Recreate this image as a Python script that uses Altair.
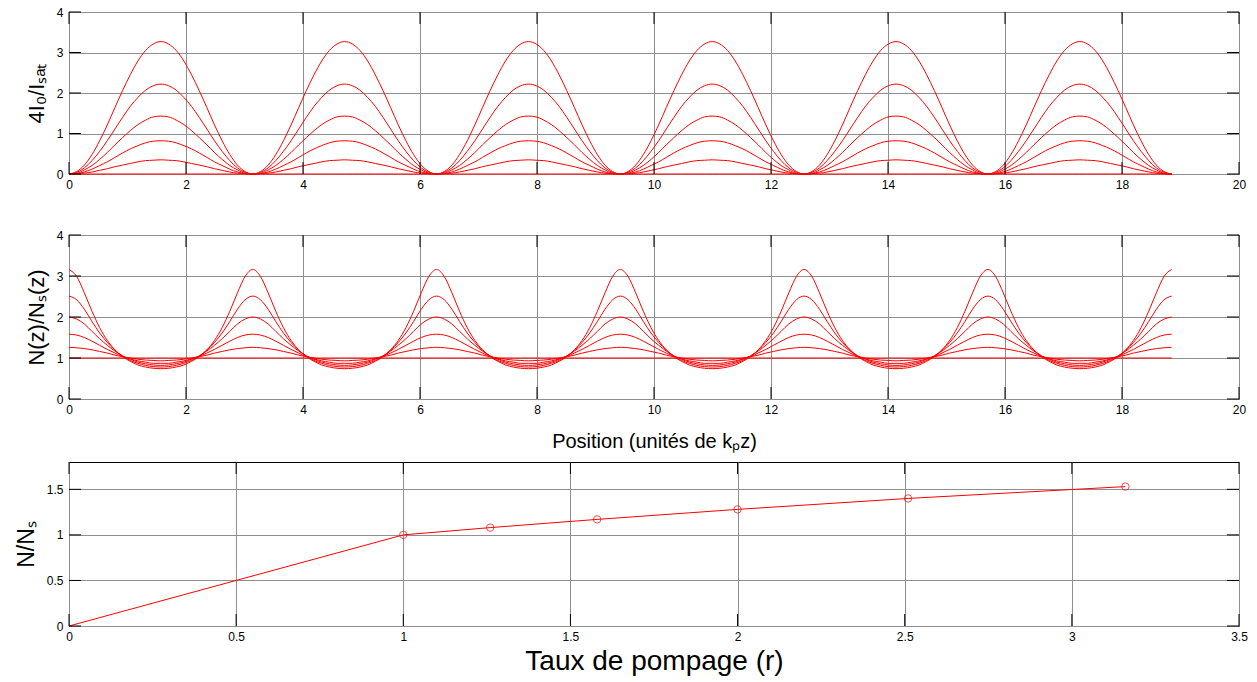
import altair as alt
import pandas as pd

# ---------------- data ----------------
PERIOD = 3.1416          # distance between two nodes of the standing wave
N_PERIODS = 6
# sample positions over one half period (0 .. pi/2)
half_x = [0, 0.131, 0.262, 0.393, 0.524, 0.654, 0.785, 0.916, 1.047, 1.178, 1.309, 1.440, 1.571]

r_labels = ["1.00", "1.26", "1.58", "2.00", "2.51", "3.16"]

# top panel: 4 I0 / Isat over a half period, one list per pumping rate
int_r100 = [0, 0, 0, 0, 0, 0, 0, 0, 0, 0, 0, 0, 0]
int_r126 = [0, 0.01, 0.02, 0.05, 0.09, 0.13, 0.18, 0.22, 0.26, 0.30, 0.33, 0.34, 0.35]
int_r158 = [0, 0.01, 0.05, 0.12, 0.21, 0.30, 0.41, 0.52, 0.62, 0.70, 0.77, 0.81, 0.82]
int_r200 = [0, 0.02, 0.10, 0.21, 0.36, 0.53, 0.72, 0.90, 1.07, 1.22, 1.33, 1.41, 1.43]
int_r251 = [0, 0.04, 0.15, 0.33, 0.56, 0.82, 1.11, 1.40, 1.67, 1.89, 2.07, 2.18, 2.22]
int_r316 = [0, 0.06, 0.22, 0.48, 0.82, 1.21, 1.64, 2.06, 2.45, 2.79, 3.05, 3.21, 3.27]

# middle panel: N(z)/Ns(z) over a half period
dens_r100 = [1, 1, 1, 1, 1, 1, 1, 1, 1, 1, 1, 1, 1]
dens_r126 = [1.26, 1.25, 1.23, 1.20, 1.16, 1.12, 1.07, 1.03, 1.00, 0.97, 0.95, 0.94, 0.93]
dens_r158 = [1.58, 1.56, 1.50, 1.41, 1.31, 1.21, 1.12, 1.04, 0.98, 0.93, 0.90, 0.87, 0.87]
dens_r200 = [2.00, 1.95, 1.83, 1.65, 1.47, 1.31, 1.17, 1.05, 0.97, 0.90, 0.86, 0.83, 0.82]
dens_r251 = [2.51, 2.42, 2.19, 1.89, 1.61, 1.38, 1.19, 1.05, 0.94, 0.87, 0.82, 0.79, 0.78]
dens_r316 = [3.16, 2.99, 2.59, 2.14, 1.74, 1.43, 1.20, 1.03, 0.92, 0.83, 0.78, 0.75, 0.74]

# bottom panel: mean inversion vs pumping rate
pump_r = [0, 1.0, 1.26, 1.58, 2.0, 2.51, 3.16]
pump_n = [0, 1.00, 1.08, 1.17, 1.28, 1.40, 1.53]

# tick labels
pos_ticks = [0, 2, 4, 6, 8, 10, 12, 14, 16, 18, 20]
level_ticks = [0, 1, 2, 3, 4]
pump_ticks = [0, 0.5, 1, 1.5, 2, 2.5, 3, 3.5]
ratio_ticks = [0, 0.5, 1, 1.5]

int_lists = [int_r100, int_r126, int_r158, int_r200, int_r251, int_r316]
dens_lists = [dens_r100, dens_r126, dens_r158, dens_r200, dens_r251, dens_r316]


def tile(half_vals, label):
    """Mirror a half-period list and repeat it along the 6 periods."""
    xs_p = half_x + [PERIOD - v for v in reversed(half_x[:-1])]
    ys_p = half_vals + list(reversed(half_vals[:-1]))
    rows = []
    for k in range(N_PERIODS):
        for i in range(len(xs_p) - 1):
            rows.append({"x": k * PERIOD + xs_p[i], "y": ys_p[i], "r": label})
    rows.append({"x": N_PERIODS * PERIOD, "y": ys_p[-1], "r": label})
    return rows


top_rows, mid_rows = [], []
for lab, il, dl in zip(r_labels, int_lists, dens_lists):
    top_rows += tile(il, lab)
    mid_rows += tile(dl, lab)
top_df = pd.DataFrame(top_rows)
mid_df = pd.DataFrame(mid_rows)
pump_df = pd.DataFrame({"x": pump_r, "y": pump_n})

# ---------------- styling ----------------
FONT = "Liberation Sans"
RED = "#ff0000"
GRID = "#8f8f8f"
W = 1170
TICK = 12


def xaxis(values, title, title_size, title_opacity=1, title_pad=14):
    return alt.Axis(values=values, title=title, grid=True, gridColor=GRID, gridWidth=1,
                    ticks=False, domain=False, labelFont=FONT, labelFontSize=12,
                    labelColor="black", labelPadding=5, labelFlush=False,
                    titleFont=FONT, titleFontSize=title_size, titleFontWeight="normal",
                    titleColor="black", titleOpacity=title_opacity, titlePadding=title_pad,
                    format="~g")


def yaxis(values, title, title_size=22):
    return alt.Axis(values=values, title=title, grid=True, gridColor=GRID, gridWidth=1,
                    ticks=False, domain=False, labelFont=FONT, labelFontSize=12,
                    labelColor="black", labelPadding=6, labelFlush=False,
                    titleFont=FONT, titleFontSize=title_size, titleFontWeight="normal",
                    titleColor="black", titlePadding=8, format="~g")


def panel(df, xscale, yscale, xax, yax, xticks, yticks, H, lines_kw, with_points=False):
    X = alt.X("x:Q", scale=xscale, axis=xax)
    Y = alt.Y("y:Q", scale=yscale, axis=yax)
    base = alt.Chart(df).mark_line(color=RED, strokeWidth=1, **lines_kw)
    if "r" in df.columns:
        layers = [base.encode(x=X, y=Y, detail="r:N")]
    else:
        layers = [base.encode(x=X, y=Y)]
    if with_points:
        layers.append(alt.Chart(df).transform_filter("datum.x >= 1").mark_point(
            shape="circle", filled=False, color=RED, size=55, strokeWidth=1
        ).encode(x=X, y=Y))
    xt = pd.DataFrame({"x": xticks})
    yt = pd.DataFrame({"y": yticks})
    bx = alt.Chart(xt).mark_rule(color="black", strokeWidth=1)
    by = alt.Chart(yt).mark_rule(color="black", strokeWidth=1)
    layers += [
        bx.encode(x=X, y=alt.value(H), y2=alt.value(H - TICK)),
        bx.encode(x=X, y=alt.value(0), y2=alt.value(TICK)),
        by.encode(y=Y, x=alt.value(0), x2=alt.value(TICK)),
        by.encode(y=Y, x=alt.value(W), x2=alt.value(W - TICK)),
    ]
    return alt.layer(*layers).properties(width=W, height=H)


pos_title = "Position (unités de kₚz)"

top = panel(top_df, alt.Scale(domain=[0, 20], nice=False), alt.Scale(domain=[0, 4], nice=False),
            xaxis(pos_ticks, pos_title, 20, 0, 8), yaxis(level_ticks, "4I₀/Iₛₐₜ"),
            pos_ticks, level_ticks, 162, {"interpolate": "monotone"})

mid = panel(mid_df, alt.Scale(domain=[0, 20], nice=False), alt.Scale(domain=[0, 4], nice=False),
            xaxis(pos_ticks, pos_title, 20, 1, 16), yaxis(level_ticks, "N(z)/Nₛ(z)"),
            pos_ticks, level_ticks, 164, {"interpolate": "monotone"})

bot = panel(pump_df, alt.Scale(domain=[0, 3.5], nice=False), alt.Scale(domain=[0, 1.8], nice=False),
            xaxis(pump_ticks, "Taux de pompage (r)", 28, 1, 5), yaxis(ratio_ticks, "N/Nₛ", 23),
            pump_ticks, ratio_ticks, 164, {}, with_points=True)

chart = alt.vconcat(top, mid, bot, spacing=9).properties(
    padding={"left": 14, "top": 5, "right": 5, "bottom": 0},
    background="white",
).configure_view(stroke="black", strokeWidth=1)

chart.save("out.html", embed_options={"renderer": "svg", "actions": False})
